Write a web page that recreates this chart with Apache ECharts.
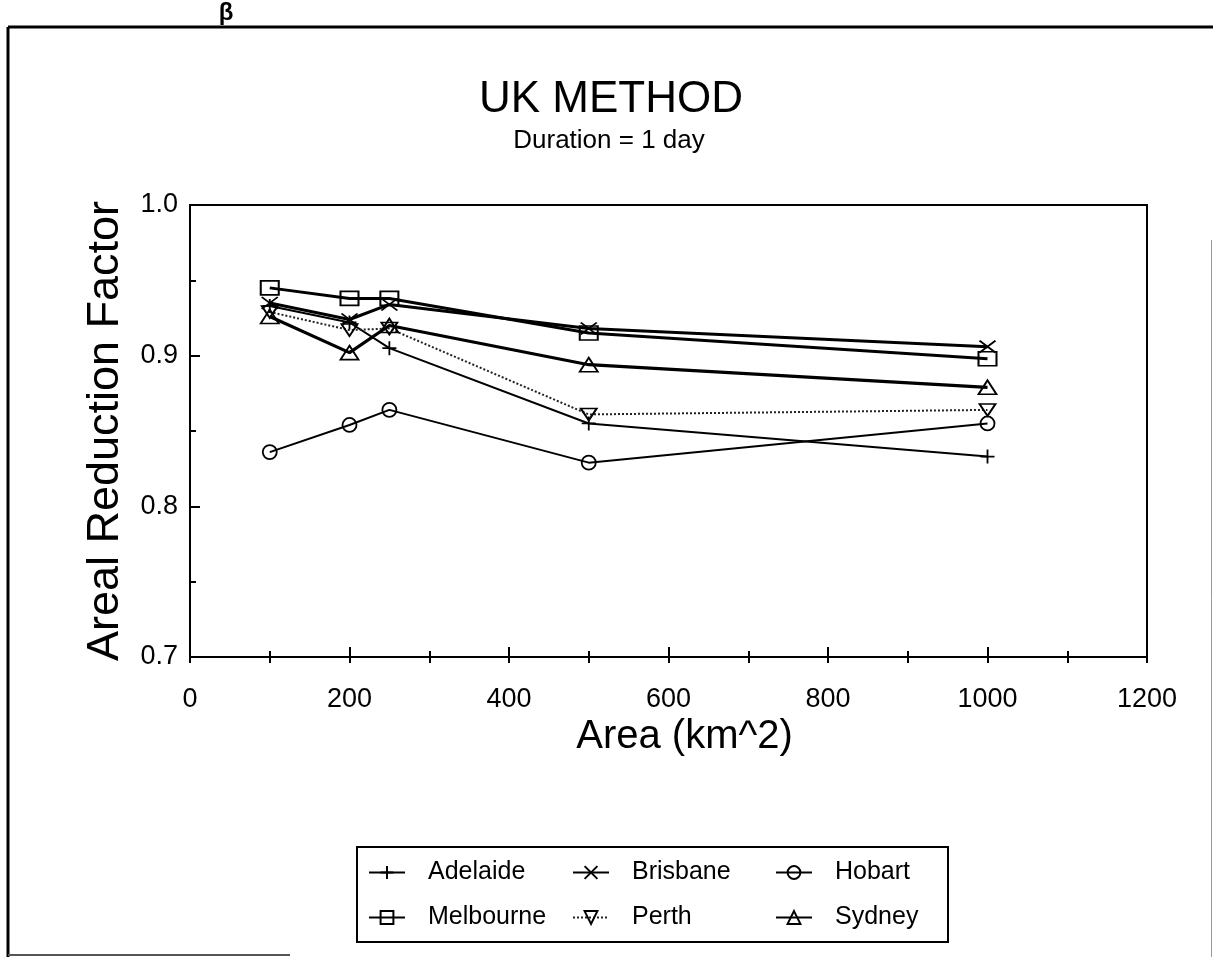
<!DOCTYPE html>
<html>
<head>
<meta charset="utf-8">
<title>UK METHOD</title>
<script src="https://cdn.jsdelivr.net/npm/echarts@6/dist/echarts.min.js"></script>
<style>
  html, body { margin: 0; padding: 0; background: #fff; }
  #chart { width: 1213px; height: 957px; }
</style>
</head>
<body>
<div id="chart"></div>
<script>
// Catchment area (km^2) at which each factor was evaluated
const areas = [100, 200, 250, 500, 1000];

// Areal reduction factors, 1-day duration
const adelaide  = [0.933, 0.922, 0.905, 0.855, 0.833];
const brisbane  = [0.935, 0.924, 0.934, 0.918, 0.906];
const hobart    = [0.836, 0.854, 0.864, 0.829, 0.855];
const melbourne = [0.945, 0.938, 0.938, 0.915, 0.898];
const perth     = [0.929, 0.917, 0.918, 0.861, 0.864];
const sydney    = [0.926, 0.902, 0.920, 0.894, 0.879];

const cityNames = ['Adelaide', 'Brisbane', 'Hobart', 'Melbourne', 'Perth', 'Sydney'];

const titleText = 'UK METHOD';
const subtitleText = 'Duration = 1 day';
const xName = 'Area (km^2)';
const yName = 'Areal Reduction Factor';

const FONT = '"Liberation Sans", Arial, Helvetica, sans-serif';

const pts = vals => areas.map((a, i) => [a, vals[i]]);

const PLUS = 'path://M0,6L12,6M6,0L6,12';
const CROSS = 'path://M0,0L14,10M0,10L14,0';

function citySeries(name, vals, symbol, size, width, extra) {
  return Object.assign({
    name: name,
    type: 'line',
    data: pts(vals),
    symbol: symbol,
    symbolSize: size,
    showAllSymbol: true,
    lineStyle: { color: '#000', width: width, type: 'solid' },
    itemStyle: { color: 'transparent', borderColor: '#000', borderWidth: 1.8 },
    emphasis: { disabled: true },
    animation: false
  }, extra || {});
}

const series = [
  citySeries('Adelaide', adelaide, PLUS, [14, 14], 2),
  citySeries('Brisbane', brisbane, CROSS, [16, 12], 3),
  citySeries('Hobart', hobart, 'circle', 14, 2),
  citySeries('Melbourne', melbourne, 'rect', [18, 14], 3),
  citySeries('Perth', perth, 'triangle', [16, 12], 2, {
    symbolRotate: 180,
    lineStyle: { color: '#222', width: 2, type: 'dotted' }
  }),
  citySeries('Sydney', sydney, 'triangle', [18, 14], 3.2)
];

// legend laid out as a 3 x 2 table
const legendCols = [368, 572, 775];
const legendRows = [860, 905];
const legends = cityNames.map((name, i) => ({
  data: [name],
  left: legendCols[i % 3],
  top: legendRows[Math.floor(i / 3)],
  padding: 0,
  itemWidth: 36,
  itemHeight: 16,
  selectedMode: false,
  textStyle: { fontFamily: FONT, fontSize: 25, color: '#000', padding: [0, 0, 0, 18] }
}));

const chart = echarts.init(document.getElementById('chart'), null, { renderer: 'canvas' });

chart.setOption({
  backgroundColor: '#fff',
  animation: false,
  grid: {
    left: 190, right: 66, top: 205, bottom: 300,
    show: true, borderColor: '#000', borderWidth: 2, backgroundColor: 'transparent'
  },
  legend: legends,
  xAxis: [
    {
      type: 'value', min: 0, max: 1200, interval: 200,
      name: xName, nameLocation: 'middle', nameGap: 60,
      nameTextStyle: { fontFamily: FONT, fontSize: 40, color: '#000', padding: [0, 0, 0, 32] },
      axisLine: { show: true, lineStyle: { color: '#000', width: 2 } },
      axisTick: { show: true, inside: true, length: 10, lineStyle: { color: '#000', width: 2 } },
      minorTick: { show: true, splitNumber: 2, length: 6, lineStyle: { color: '#000', width: 2 } },
      axisLabel: { margin: 29, fontFamily: FONT, fontSize: 27, color: '#000', formatter: v => String(v) },
      splitLine: { show: false }
    },
    {
      // the ticks also cross below the axis line
      type: 'value', min: 0, max: 1200, interval: 100, position: 'bottom',
      axisLine: { show: false },
      axisTick: { show: true, inside: false, length: 6, lineStyle: { color: '#000', width: 2 } },
      axisLabel: { show: false },
      splitLine: { show: false }
    }
  ],
  yAxis: {
    type: 'value', min: 0.7, max: 1.0, interval: 0.1,
    name: yName, nameLocation: 'middle', nameGap: 62, nameRotate: 90,
    nameTextStyle: { fontFamily: FONT, fontSize: 45, color: '#000' },
    axisLine: { show: true, lineStyle: { color: '#000', width: 2 } },
    axisTick: { show: true, inside: true, length: 10, lineStyle: { color: '#000', width: 2 } },
    minorTick: { show: true, splitNumber: 2, length: 6, lineStyle: { color: '#000', width: 2 } },
    axisLabel: { margin: 12, fontFamily: FONT, fontSize: 27, color: '#000',
      formatter: v => v.toFixed(1) },
    splitLine: { show: false }
  },
  series: series,
  graphic: [
    // page frame
    { type: 'line', shape: { x1: 8, y1: 27, x2: 1213, y2: 27 }, style: { stroke: '#000', lineWidth: 3 }, silent: true },
    { type: 'line', shape: { x1: 8, y1: 27, x2: 8, y2: 957 }, style: { stroke: '#000', lineWidth: 3 }, silent: true },
    { type: 'line', shape: { x1: 8, y1: 955, x2: 290, y2: 955 }, style: { stroke: '#555', lineWidth: 2 }, silent: true },
    { type: 'line', shape: { x1: 1211.5, y1: 240, x2: 1211.5, y2: 957 }, style: { stroke: '#999', lineWidth: 1 }, silent: true },
    // page mark
    { type: 'text', x: 226, y: 13, style: { text: 'β', font: 'bold 24px ' + FONT, fill: '#000', textAlign: 'center', textVerticalAlign: 'middle' }, silent: true },
    // titles
    { type: 'text', x: 611, y: 100, style: { text: titleText, font: '44px ' + FONT, fill: '#000', textAlign: 'center', textVerticalAlign: 'middle' }, silent: true },
    { type: 'text', x: 609, y: 141, style: { text: subtitleText, font: '26px ' + FONT, fill: '#000', textAlign: 'center', textVerticalAlign: 'middle' }, silent: true },
    // legend frame
    { type: 'rect', shape: { x: 357, y: 847, width: 591, height: 95 }, style: { fill: 'none', stroke: '#000', lineWidth: 2 }, silent: true, z: -1 }
  ]
});
</script>
</body>
</html>
